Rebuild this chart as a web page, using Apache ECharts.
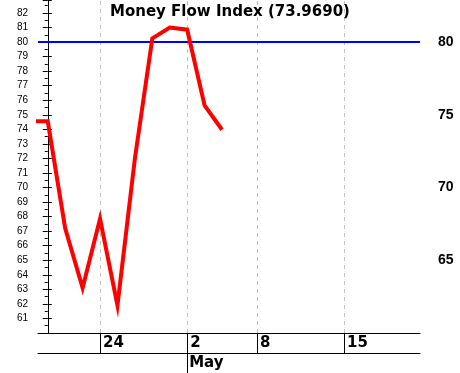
<!DOCTYPE html>
<html>
<head>
<meta charset="utf-8">
<script src="https://cdn.jsdelivr.net/npm/echarts@6/dist/echarts.min.js"></script>
<style>
html,body{margin:0;padding:0;background:#fff;}
#chart{width:460px;height:373px;}
</style>
</head>
<body>
<div id="chart"></div>
<script>
// Trading-day index (0 = Apr 21) and Money Flow Index values
const dates = ['Apr 18','Apr 21','Apr 22','Apr 23','Apr 24','Apr 25','Apr 28','Apr 29','Apr 30','May 2','May 5','May 6'];
const dayIndex = [-1, 0, 1, 2, 3, 4, 5, 6, 7, 8, 9, 10];
const mfiValues = [74.55, 74.55, 67.2, 63.1, 67.85, 61.9, 72.0, 80.25, 81.0, 80.85, 75.65, 73.969];

// X-axis date ticks (trading-day index) and labels
const dayTickIndex = [3, 8, 12, 17];
const dayTickLabels = ['24', '2', '8', '15'];
const monthTickIndex = [8];
const monthTickLabels = ['May'];

// Y-axis
const yMin = 60;
const yMax = 82.89;
const overboughtLevel = 80;
const lastValue = 73.9690;
const titleText = 'Money Flow Index (' + lastValue.toFixed(4) + ')';

const xMin = -0.56;
const xMax = 21.36;

const chart = echarts.init(document.getElementById('chart'), null, {renderer: 'canvas'});

const font = 'Arial, "Liberation Sans", Helvetica, sans-serif';
const wideFont = '"DejaVu Sans", Verdana, sans-serif';

const option = {
  backgroundColor: '#ffffff',
  animation: false,
  title: {
    text: titleText,
    left: 'center',
    top: 5,
    padding: 0,
    textStyle: {fontFamily: wideFont, fontSize: 15, fontWeight: 'bold', color: '#000'}
  },
  grid: {left: 38, right: 40, top: 0, bottom: 40, containLabel: false},
  xAxis: [
    {
      type: 'value', min: xMin, max: xMax, position: 'bottom',
      axisLine: {show: true, onZero: false, lineStyle: {color: '#000', width: 1}},
      axisTick: {show: true, customValues: dayTickIndex, length: 20, inside: false, lineStyle: {color: '#000', width: 1}},
      axisLabel: {
        show: true, customValues: dayTickIndex,
        formatter: function (v) { const i = dayTickIndex.indexOf(v); return i >= 0 ? dayTickLabels[i] : ''; },
        align: 'left', padding: [0, 0, 0, 3], margin: 3,
        fontFamily: wideFont, fontSize: 15, fontWeight: 'bold', color: '#000'
      },
      splitLine: {show: false}
    },
    {
      type: 'value', min: xMin, max: xMax, position: 'bottom', offset: 20,
      axisLine: {show: true, onZero: false, lineStyle: {color: '#000', width: 1}},
      axisTick: {show: true, customValues: monthTickIndex, length: 20, inside: false, lineStyle: {color: '#000', width: 1}},
      axisLabel: {
        show: true, customValues: monthTickIndex,
        formatter: function (v) { const i = monthTickIndex.indexOf(v); return i >= 0 ? monthTickLabels[i] : ''; },
        align: 'left', padding: [0, 0, 0, 2], margin: 3,
        fontFamily: wideFont, fontSize: 15, fontWeight: 'bold', color: '#000'
      },
      splitLine: {show: false}
    }
  ],
  yAxis: [
    {
      type: 'value', min: yMin, max: yMax, interval: 1, position: 'left',
      axisLine: {show: true, lineStyle: {color: '#000', width: 1}},
      axisTick: {show: true, length: 5, lineStyle: {color: '#000'}},
      minorTick: {show: true, splitNumber: 2, length: 3, lineStyle: {color: '#000'}},
      axisLabel: {
        formatter: function (v) { return (Number.isInteger(v) && v > yMin) ? String(v) : ''; },
        margin: 10, fontFamily: font, fontSize: 10, color: '#000'
      },
      splitLine: {show: false}
    },
    {
      type: 'value', min: yMin, max: yMax, interval: 1, position: 'right',
      axisLine: {show: false},
      axisTick: {show: true, length: 4, lineStyle: {color: '#000'}},
      axisLabel: {
        formatter: function (v) { return (Number.isInteger(v) && v % 5 === 0 && v > yMin) ? String(v) : ''; },
        margin: 18, fontFamily: font, fontSize: 14, fontWeight: 'bold', color: '#000'
      },
      splitLine: {show: false}
    }
  ],
  series: [
    {
      name: 'grid', type: 'line', data: [], z: 1, silent: true,
      markLine: {
        silent: true, symbol: ['none', 'none'], label: {show: false},
        lineStyle: {color: '#c0c0c0', type: [4, 4], width: 1},
        data: dayTickIndex.map(function (v) { return {xAxis: v}; })
      }
    },
    {
      name: 'level', type: 'line', data: [], z: 2, silent: true,
      markLine: {
        silent: true, symbol: ['none', 'none'], label: {show: false},
        lineStyle: {color: '#0000ff', type: 'solid', width: 2},
        data: [{yAxis: overboughtLevel}]
      }
    },
    {
      name: 'MFI', type: 'line', z: 5,
      data: dayIndex.map(function (d, i) { return [d, mfiValues[i]]; }),
      showSymbol: false, symbol: 'none', clip: true,
      lineStyle: {color: '#ff0000', width: 4, join: 'miter'},
      itemStyle: {color: '#ff0000'}
    }
  ]
};
chart.setOption(option);
</script>
</body>
</html>
